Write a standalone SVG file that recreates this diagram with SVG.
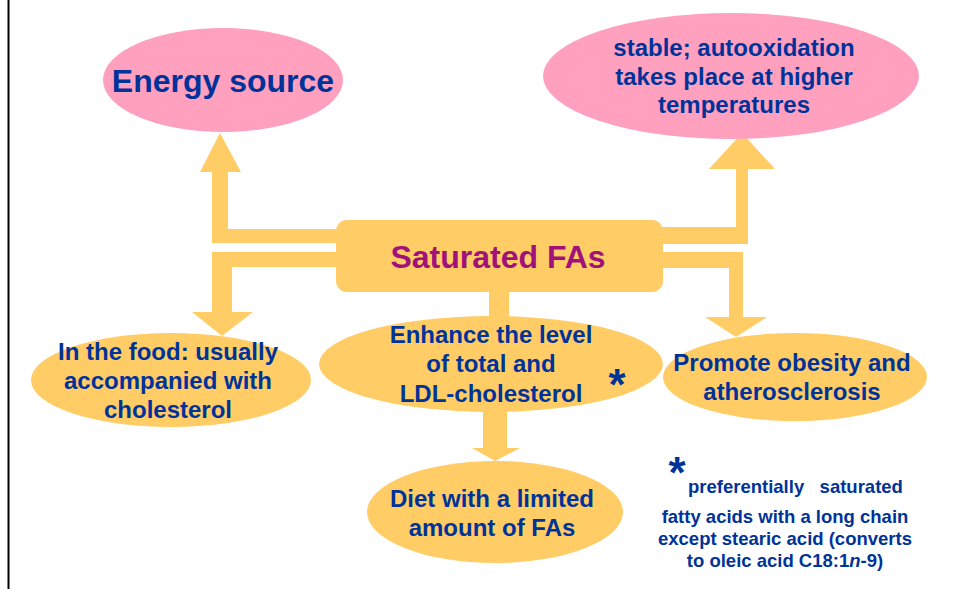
<svg xmlns="http://www.w3.org/2000/svg" width="954" height="589" viewBox="0 0 954 589">
<style>
.pink{fill:#FFA0BF}
.gold{fill:#FFCC66}
.t{font-family:"Liberation Sans",Arial,sans-serif;font-weight:bold;fill:#003399;text-anchor:middle}
.big{font-size:32px}
.mid{font-size:24px}
.sm{font-size:18.5px}
.ast{font-family:"Liberation Sans",Arial,sans-serif;font-weight:bold;fill:#003399;font-size:44px;text-anchor:middle}
</style>
<rect width="954" height="589" fill="#ffffff"/>
<rect x="7.5" y="0" width="2" height="589" fill="#000000"/>
<g id="connectors" class="gold">
<polygon points="337,229 228,229 228,172 241,172 220,133 200,172 212,172 212,243 337,243"/>
<polygon points="337,252 212,252 212,312 192,312 222,336 253,312 232,312 232,267 337,267"/>
<polygon points="662,227 736,227 736,169 709,169 742,133 775,169 748,169 748,244 662,244"/>
<polygon points="662,252 743,252 743,317 767,317 736,337 705,317 729,317 729,268 662,268"/>
<rect x="489" y="288" width="20" height="34"/>
<polygon points="483,408 507,408 507,448 520,448 495,461 472,448 483,448"/>
</g>
<g id="node-energy">
<ellipse class="pink" cx="223" cy="80" rx="120" ry="52"/>
<text class="t big" x="223" y="92">Energy source</text>
</g>
<g id="node-stable">
<ellipse class="pink" cx="731" cy="76" rx="188" ry="63"/>
<text class="t mid" x="734" y="56">stable; autooxidation</text>
<text class="t mid" x="734" y="85">takes place at higher</text>
<text class="t mid" x="734" y="113">temperatures</text>
</g>
<g id="node-saturated">
<rect class="gold" x="336" y="220" width="327" height="72" rx="11"/>
<text class="t big" x="498" y="268" style="fill:#A0127A">Saturated FAs</text>
</g>
<g id="node-food">
<ellipse class="gold" cx="171" cy="380" rx="140" ry="47"/>
<text class="t mid" x="168" y="360">In the food: usually</text>
<text class="t mid" x="168" y="389">accompanied with</text>
<text class="t mid" x="168" y="418">cholesterol</text>
</g>
<g id="node-enhance">
<ellipse class="gold" cx="491" cy="364" rx="172" ry="48"/>
<text class="t mid" x="491" y="343">Enhance the level</text>
<text class="t mid" x="491" y="372">of total and</text>
<text class="t mid" x="491" y="402">LDL-cholesterol</text>
<text class="ast" x="617" y="400">*</text>
</g>
<g id="node-promote">
<ellipse class="gold" cx="795" cy="377" rx="132" ry="44"/>
<text class="t mid" x="792" y="371">Promote obesity and</text>
<text class="t mid" x="792" y="400">atherosclerosis</text>
</g>
<g id="node-diet">
<ellipse class="gold" cx="495" cy="512" rx="128" ry="51"/>
<text class="t mid" x="492" y="507">Diet with a limited</text>
<text class="t mid" x="492" y="536">amount of FAs</text>
</g>
<g id="footnote">
<text class="ast" x="677" y="488">*</text>
<text class="t sm" x="688" y="493" style="text-anchor:start" xml:space="preserve">preferentially   saturated</text>
<text class="t sm" x="785" y="523">fatty acids with a long chain</text>
<text class="t sm" x="785" y="545">except stearic acid (converts</text>
<text class="t sm" x="785" y="567">to oleic acid C18:1<tspan font-style="italic">n</tspan>-9)</text>
</g>
</svg>
